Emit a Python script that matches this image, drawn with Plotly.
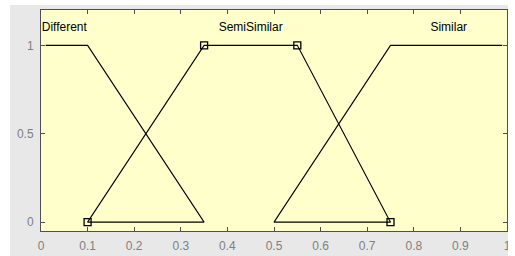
import plotly.graph_objects as go

# Membership functions
diff_x = [0.01, 0.1, 0.35, 0.1]
diff_y = [1, 1, 0, 0]
semi_x = [0.1, 0.35, 0.55, 0.75]
semi_y = [0, 1, 1, 0]
sim_x = [0.99, 0.75, 0.5, 0.75]
sim_y = [1, 1, 0, 0]

mf_names = ["Different", "SemiSimilar", "Similar"]
label_x = [0.05, 0.45, 0.875]
label_y = [1.1, 1.1, 1.1]

x_ticks = [0, 0.1, 0.2, 0.3, 0.4, 0.5, 0.6, 0.7, 0.8, 0.9, 1]
x_tick_text = ["0", "0.1", "0.2", "0.3", "0.4", "0.5", "0.6", "0.7", "0.8", "0.9", "1"]
y_ticks = [0, 0.5, 1]
y_tick_text = ["0", "0.5", "1"]

fig = go.Figure()
line = dict(color="black", width=1.1)
fig.add_trace(go.Scatter(x=diff_x, y=diff_y, mode="lines", line=line, hoverinfo="skip"))
fig.add_trace(go.Scatter(x=sim_x, y=sim_y, mode="lines", line=line, hoverinfo="skip"))
fig.add_trace(go.Scatter(x=semi_x, y=semi_y, mode="lines+markers", line=line,
                         marker=dict(symbol="square-open", size=7, color="black",
                                     line=dict(width=1.3, color="black")),
                         hoverinfo="skip"))
fig.add_trace(go.Scatter(x=label_x, y=label_y, mode="text", text=mf_names,
                         textfont=dict(family="Liberation Sans, Arial", size=12, color="black"),
                         hoverinfo="skip"))

# white strips around the gray figure panel
W, H = 466.0, 221.0
for x0, x1, y0, y1 in [(-41 / W, -31 / W, -25 / H, 1 + 10 / H),
                       (-41 / W, 1 + 8 / W, 1 + 5 / H, 1 + 10 / H),
                       (1 + 1 / W, 1 + 8 / W, -25 / H, 1 + 10 / H)]:
    fig.add_shape(type="rect", xref="paper", yref="paper", layer="above",
                  x0=x0, x1=x1, y0=y0, y1=y1, fillcolor="white", line=dict(width=0))

fig.update_layout(
    width=515, height=256,
    margin=dict(l=41, r=8, t=10, b=25, autoexpand=False),
    paper_bgcolor="#E8E8E8",
    plot_bgcolor="#FFFFCC",
    showlegend=False,
    font=dict(family="Liberation Sans, Arial", size=12, color="#808080"),
)
axis_common = dict(showgrid=False, zeroline=False, showline=True, linecolor="#505050",
                   linewidth=1, mirror="ticks", ticks="inside", ticklen=4,
                   tickcolor="#505050", tickfont=dict(size=12, color="#808080"),
                   automargin=False)
fig.update_xaxes(range=[0, 1], tickvals=x_ticks, ticktext=x_tick_text,
                 ticklabelstandoff=4, **axis_common)
fig.update_yaxes(range=[-0.05, 1.2], tickvals=y_ticks, ticktext=y_tick_text,
                 ticklabelstandoff=4, **axis_common)

fig.write_html("out.html", config={"displayModeBar": False},
               post_script="document.body.style.margin='0px';")
